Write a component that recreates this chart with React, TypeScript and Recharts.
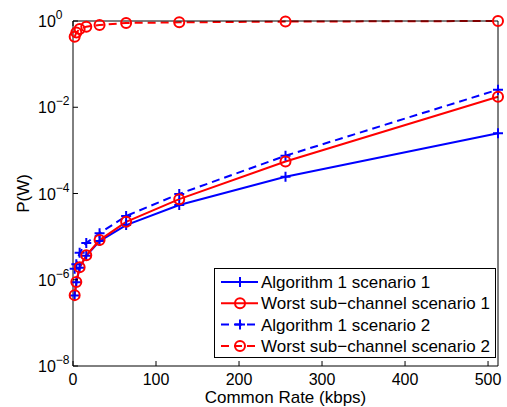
import { LineChart, Line, XAxis, YAxis } from 'recharts';

// common rate in kbps
const rate = [2, 4, 8, 16, 32, 64, 128, 256, 512];

// transmit power P(W) per series
const alg1Scen1 = [4.3e-7, 8.7e-7, 1.9e-6, 3.6e-6, 7.9e-6, 1.85e-5, 5.4e-5, 2.45e-4, 2.5e-3];
const worstScen1 = [4.4e-7, 8.9e-7, 1.95e-6, 3.7e-6, 8.3e-6, 2.2e-5, 7.4e-5, 5.5e-4, 1.75e-2];
const alg1Scen2 = [1.8e-6, 2.3e-6, 4.2e-6, 7.1e-6, 1.2e-5, 3.0e-5, 9.8e-5, 7.5e-4, 2.56e-2];
const worstScen2 = [0.43, 0.54, 0.65, 0.74, 0.81, 0.9, 0.93, 0.97, 1.0];

const xTicks = [0, 100, 200, 300, 400, 500];
const yTicks = [1e-8, 1e-6, 1e-4, 1e-2, 1];

const legendLabels = [
  'Algorithm 1 scenario 1',
  'Worst sub\u2212channel scenario 1',
  'Algorithm 1 scenario 2',
  'Worst sub\u2212channel scenario 2',
];

const data = rate.map((r, i) => ({
  rate: r,
  a1: alg1Scen1[i],
  w1: worstScen1[i],
  a2: alg1Scen2[i],
  w2: worstScen2[i],
}));

const FONT = '"Liberation Sans", Arial, Helvetica, sans-serif';
const BLUE = '#0000ff';
const RED = '#ff0000';

function Plus({ cx, cy, color }: { cx: number; cy: number; color: string }) {
  return (
    <path
      d={`M${cx - 5},${cy}H${cx + 5}M${cx},${cy - 5}V${cy + 5}`}
      stroke={color}
      strokeWidth={2}
      fill="none"
    />
  );
}

function Ring({ cx, cy, color }: { cx: number; cy: number; color: string }) {
  return <circle cx={cx} cy={cy} r={5} stroke={color} strokeWidth={2} fill="none" />;
}

const plusDot = (color: string) => (p: any) =>
  <Plus key={`p-${p.index}`} cx={p.cx} cy={p.cy} color={color} />;
const ringDot = (color: string) => (p: any) =>
  <Ring key={`r-${p.index}`} cx={p.cx} cy={p.cy} color={color} />;

function BottomTick({ x, y, payload }: any) {
  return (
    <g>
      <line x1={x} x2={x} y1={y} y2={y - 5} stroke="#000" />
      <text x={x} y={y + 19} textAnchor="middle" fontSize={16} fontFamily={FONT} fill="#000">
        {payload.value}
      </text>
    </g>
  );
}

function TopTick({ x, y }: any) {
  return <line x1={x} x2={x} y1={y} y2={y + 5} stroke="#000" />;
}

function LeftTick({ x, y, payload }: any) {
  const exp = Math.round(Math.log10(payload.value));
  const sup = exp < 0 ? `\u2212${-exp}` : `${exp}`;
  return (
    <g>
      <line x1={x} x2={x + 5} y1={y} y2={y} stroke="#000" />
      <text x={x - 35} y={y + 6} textAnchor="start" fontSize={16} fontFamily={FONT} fill="#000">
        10
        <tspan dy={-8} fontSize={12}>
          {sup}
        </tspan>
      </text>
    </g>
  );
}

function RightTick({ x, y }: any) {
  return <line x1={x} x2={x - 5} y1={y} y2={y} stroke="#000" />;
}

function Legend() {
  const rows = [
    { color: BLUE, dash: undefined, marker: 'plus' },
    { color: RED, dash: undefined, marker: 'ring' },
    { color: BLUE, dash: '8 5', marker: 'plus' },
    { color: RED, dash: '8 5', marker: 'ring' },
  ];
  return (
    <svg
      width={282}
      height={90}
      style={{ position: 'absolute', left: 214, top: 268, overflow: 'visible' }}
    >
      <rect x={0.5} y={0.5} width={281} height={89} fill="#fff" stroke="#000" />
      {rows.map((r, i) => {
        const cy = 14 + i * 21.3;
        return (
          <g key={i}>
            <line x1={7} x2={44} y1={cy} y2={cy} stroke={r.color} strokeWidth={2} strokeDasharray={r.dash} />
            {r.marker === 'plus' ? (
              <Plus cx={26} cy={cy} color={r.color} />
            ) : (
              <Ring cx={26} cy={cy} color={r.color} />
            )}
            <text x={47} y={cy + 6} fontSize={17} fontFamily={FONT} fill="#000">
              {legendLabels[i]}
            </text>
          </g>
        );
      })}
    </svg>
  );
}

export default function App() {
  return (
    <div style={{ position: 'absolute', left: 0, top: 0, width: 507, height: 407, background: '#fff' }}>
      <LineChart width={507} height={407} data={data} margin={{ top: 0, right: 0, bottom: 0, left: 0 }}>
        <XAxis
          xAxisId="bottom"
          dataKey="rate"
          type="number"
          domain={[0, 512]}
          ticks={xTicks}
          interval={0}
          height={41}
          tickSize={0}
          tickMargin={0}
          tickLine={false}
          tick={<BottomTick />}
          axisLine={{ stroke: '#000' }}
          label={{
            content: ({ viewBox }: any) => (
              <text
                x={viewBox.x + viewBox.width / 2}
                y={viewBox.y + 37}
                textAnchor="middle"
                fontSize={17}
                fontFamily={FONT}
                fill="#000"
              >
                Common Rate (kbps)
              </text>
            ),
          }}
        />
        <XAxis
          xAxisId="top"
          orientation="top"
          type="number"
          domain={[0, 512]}
          ticks={xTicks}
          interval={0}
          height={21}
          tickSize={0}
          tickMargin={0}
          tickLine={false}
          tick={<TopTick />}
          axisLine={{ stroke: '#000' }}
        />
        <YAxis
          yAxisId="left"
          type="number"
          scale="log"
          domain={[1e-8, 1]}
          ticks={yTicks}
          interval={0}
          width={73}
          tickSize={0}
          tickMargin={0}
          tickLine={false}
          tick={<LeftTick />}
          axisLine={{ stroke: '#000' }}
          label={{
            content: ({ viewBox }: any) => {
              const cx = 29;
              const cy = viewBox.y + viewBox.height / 2;
              return (
                <text
                  x={cx}
                  y={cy}
                  transform={`rotate(-90 ${cx} ${cy})`}
                  textAnchor="middle"
                  fontSize={17}
                  fontFamily={FONT}
                  fill="#000"
                >
                  P(W)
                </text>
              );
            },
          }}
        />
        <YAxis
          yAxisId="right"
          orientation="right"
          type="number"
          scale="log"
          domain={[1e-8, 1]}
          ticks={yTicks}
          interval={0}
          width={9}
          tickSize={0}
          tickMargin={0}
          tickLine={false}
          tick={<RightTick />}
          axisLine={{ stroke: '#000' }}
        />
        <Line
          xAxisId="bottom"
          yAxisId="left"
          dataKey="w2"
          stroke={RED}
          strokeWidth={2}
          strokeDasharray="8 5"
          dot={ringDot(RED)}
          activeDot={false}
          isAnimationActive={false}
        />
        <Line
          xAxisId="bottom"
          yAxisId="left"
          dataKey="a2"
          stroke={BLUE}
          strokeWidth={2}
          strokeDasharray="8 5"
          dot={plusDot(BLUE)}
          activeDot={false}
          isAnimationActive={false}
        />
        <Line
          xAxisId="bottom"
          yAxisId="left"
          dataKey="a1"
          stroke={BLUE}
          strokeWidth={2}
          dot={plusDot(BLUE)}
          activeDot={false}
          isAnimationActive={false}
        />
        <Line
          xAxisId="bottom"
          yAxisId="left"
          dataKey="w1"
          stroke={RED}
          strokeWidth={2}
          dot={ringDot(RED)}
          activeDot={false}
          isAnimationActive={false}
        />
      </LineChart>
      <Legend />
    </div>
  );
}
